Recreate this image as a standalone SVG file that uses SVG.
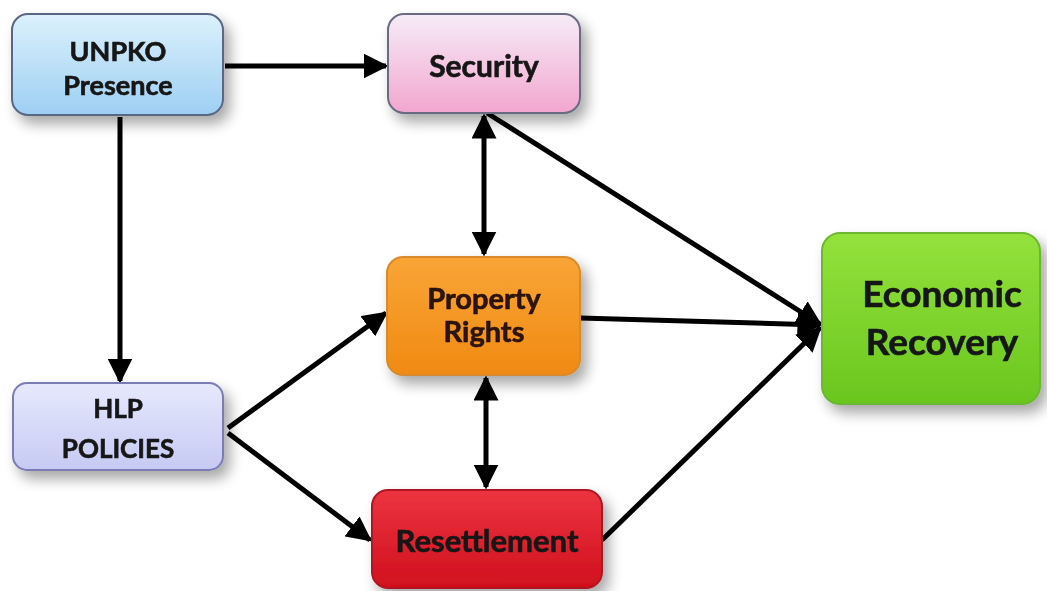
<svg xmlns="http://www.w3.org/2000/svg" width="1047" height="591" viewBox="0 0 1047 591">
<defs>
<linearGradient id="gBlue" x1="0" y1="0" x2="0" y2="1"><stop offset="0" stop-color="#dcf1fc"/><stop offset="1" stop-color="#9dcff3"/></linearGradient>
<linearGradient id="gPink" x1="0" y1="0" x2="0" y2="1"><stop offset="0" stop-color="#f6ecf8"/><stop offset="1" stop-color="#f2a6cf"/></linearGradient>
<linearGradient id="gOrange" x1="0" y1="0" x2="0" y2="1"><stop offset="0" stop-color="#f9a537"/><stop offset="1" stop-color="#f08a12"/></linearGradient>
<linearGradient id="gRed" x1="0" y1="0" x2="0" y2="1"><stop offset="0" stop-color="#ec3440"/><stop offset="1" stop-color="#d0101e"/></linearGradient>
<linearGradient id="gGreen" x1="0" y1="0" x2="0" y2="1"><stop offset="0" stop-color="#94e23c"/><stop offset="1" stop-color="#6ac61e"/></linearGradient>
<linearGradient id="gLav" x1="0" y1="0" x2="0" y2="1"><stop offset="0" stop-color="#e6e9fd"/><stop offset="1" stop-color="#c6caf3"/></linearGradient>
<filter id="sh" x="-20%" y="-20%" width="150%" height="160%"><feGaussianBlur in="SourceAlpha" stdDeviation="7"/><feOffset dx="6" dy="8"/><feComponentTransfer><feFuncA type="linear" slope="0.35"/></feComponentTransfer><feMerge><feMergeNode/><feMergeNode in="SourceGraphic"/></feMerge></filter>
<marker id="ah" viewBox="0 0 10 10" refX="9" refY="5" markerWidth="5" markerHeight="5" markerUnits="strokeWidth" orient="auto-start-reverse"><path d="M0,0 L10,5 L0,10 Z" fill="#000"/></marker>
</defs>
<style>
.lbl{font-family:Lato,"Open Sans","Liberation Sans",sans-serif;font-weight:bold;fill:#161616;text-anchor:middle;stroke:#161616;stroke-width:0.6}
.c{stroke:#000;stroke-width:5;fill:none}
</style>
<rect width="1047" height="591" fill="#fff"/>
<g id="connectors">
<line class="c" x1="225" y1="66" x2="386" y2="66" marker-end="url(#ah)"/>
<line class="c" x1="120" y1="117" x2="120" y2="381" marker-end="url(#ah)"/>
<line class="c" x1="484" y1="116" x2="484" y2="254" marker-start="url(#ah)" marker-end="url(#ah)"/>
<line class="c" x1="486" y1="378" x2="486" y2="487" marker-start="url(#ah)" marker-end="url(#ah)"/>
<line class="c" x1="228" y1="428" x2="386" y2="313" marker-end="url(#ah)"/>
<line class="c" x1="228" y1="433" x2="370" y2="540" marker-end="url(#ah)"/>
<line class="c" x1="487" y1="113" x2="820" y2="324" marker-end="url(#ah)"/>
<line class="c" x1="580" y1="318" x2="820" y2="325" marker-end="url(#ah)"/>
<line class="c" x1="602" y1="540" x2="820" y2="328" marker-end="url(#ah)"/>
</g>
<g id="unpko" filter="url(#sh)">
<rect x="12" y="14" width="211" height="101" rx="16" fill="url(#gBlue)" stroke="#586784" stroke-width="2"/>
<text class="lbl" x="118" y="61" font-size="27">UNPKO</text>
<text class="lbl" x="118" y="95" font-size="27">Presence</text>
</g>
<g id="security" filter="url(#sh)">
<rect x="388" y="14" width="192" height="99" rx="16" fill="url(#gPink)" stroke="#6b6a80" stroke-width="2"/>
<text class="lbl" x="484" y="77" font-size="30">Security</text>
</g>
<g id="property" filter="url(#sh)">
<rect x="387" y="257" width="193" height="118" rx="16" fill="url(#gOrange)" stroke="#d98a2a" stroke-width="2"/>
<text class="lbl" x="484" y="309" font-size="29" style="fill:#2a1208;stroke:#2a1208">Property</text>
<text class="lbl" x="484" y="342" font-size="29" style="fill:#2a1208;stroke:#2a1208">Rights</text>
</g>
<g id="resettlement" filter="url(#sh)">
<rect x="372" y="490" width="230" height="98" rx="16" fill="url(#gRed)" stroke="#b01824" stroke-width="2"/>
<text class="lbl" x="487" y="552" font-size="31">Resettlement</text>
</g>
<g id="economic" filter="url(#sh)">
<rect x="822" y="233" width="218" height="171" rx="18" fill="url(#gGreen)" stroke="#6cb830" stroke-width="2"/>
<text class="lbl" x="942" y="307" font-size="37">Economic</text>
<text class="lbl" x="942" y="355" font-size="37">Recovery</text>
</g>
<g id="hlp" filter="url(#sh)">
<rect x="13" y="383" width="210" height="87" rx="14" fill="url(#gLav)" stroke="#7a7bb5" stroke-width="2"/>
<text class="lbl" x="118" y="418" font-size="26">HLP</text>
<text class="lbl" x="118" y="458" font-size="26">POLICIES</text>
</g>
</svg>
